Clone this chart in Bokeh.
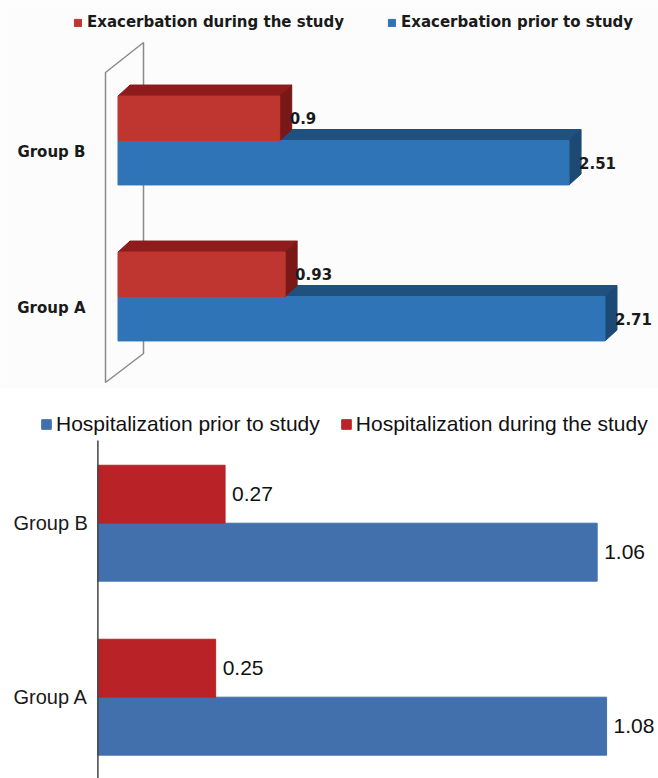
from bokeh.plotting import figure
from bokeh.layouts import column
from bokeh.models import Range1d, Legend, LegendItem
from bokeh.core.properties import value
from bokeh.embed import file_html
from bokeh.resources import INLINE

# ---------------- data ----------------
groups = ["Group A", "Group B"]
exac_during = [0.93, 0.9]
exac_prior = [2.71, 2.51]
hosp_prior = [1.08, 1.06]
hosp_during = [0.25, 0.27]
legend_top = ["Exacerbation during the study", "Exacerbation prior to study"]
legend_bottom = ["Hospitalization prior to study", "Hospitalization during the study"]

# ---------------- styles ----------------
W = 658
H1 = 388
H2 = 390
RED_FRONT, RED_TOP, RED_SIDE = "#BF3631", "#8E1C1C", "#7A1717"
BLUE_FRONT, BLUE_TOP, BLUE_SIDE = "#2E74B6", "#1F507E", "#1C4A75"
RED2, BLUE2 = "#B92328", "#4170AD"

# ================= top chart (3D look) =================
X0, SX = 117.5, 179.7      # pixel of zero, pixels per unit
Y0, SY = 296.0, 156.0      # pixel of Group A baseline, pixels per group
pos = [0, 1]
h = 0.285
dx, dy = 12 / SX, 11 / SY

p1 = figure(width=W, height=H1,
            x_range=Range1d(-X0 / SX, (W - X0) / SX),
            y_range=Range1d(-(H1 - Y0) / SY, Y0 / SY),
            x_axis_location=None, y_axis_location=None,
            toolbar_location=None, output_backend="svg", min_border=0,
            outline_line_color=None, background_fill_color="#fcfcfc",
            border_fill_color="#fcfcfc")
p1.grid.visible = False

def px_x(px):
    return (px - X0) / SX

def px_y(py):
    return (Y0 - py) / SY

# back wall (decoration)
p1.patch(x=[px_x(105), px_x(105), px_x(143), px_x(143)],
         y=[px_y(382), px_y(72), px_y(42), px_y(353)],
         fill_alpha=0, line_color="#8a8a8a", line_width=1.5)

def bar3d(p, vals, base, front, top, side):
    p.patches(xs=[[0, dx, v + dx, v] for v in vals],
              ys=[[b + h, b + h + dy, b + h + dy, b + h] for b in base],
              color=top)
    p.patches(xs=[[v, v + dx, v + dx, v] for v in vals],
              ys=[[b + h, b + h + dy, b + dy, b] for b in base],
              color=side)
    return p.quad(left=0, right=vals, bottom=base, top=[b + h for b in base],
                  fill_color=front, line_color=front)

blue_r = bar3d(p1, exac_prior, [y - h for y in pos], BLUE_FRONT, BLUE_TOP, BLUE_SIDE)
red_r = bar3d(p1, exac_during, pos, RED_FRONT, RED_TOP, RED_SIDE)

FONT1 = value("DejaVu Sans")
p1.text(x=[v + 10 / SX for v in exac_during], y=[y + 0.147 for y in pos],
        text=[str(v) for v in exac_during], text_font=FONT1, text_font_style="bold",
        text_font_size="15px", text_baseline="middle", text_color="#1a1a1a")
p1.text(x=[v + 10 / SX for v in exac_prior], y=[y - 0.147 for y in pos],
        text=[str(v) for v in exac_prior], text_font=FONT1, text_font_style="bold",
        text_font_size="15px", text_baseline="middle", text_color="#1a1a1a")
p1.text(x=[px_x(85)] * 2, y=[y - 11 / SY for y in pos], text=groups,
        text_font=FONT1, text_font_style="bold", text_font_size="15px",
        text_baseline="middle", text_align="right", text_color="#1a1a1a")

leg1 = Legend(items=[LegendItem(label=legend_top[0], renderers=[red_r]),
                     LegendItem(label=legend_top[1], renderers=[blue_r])],
              orientation="horizontal", location=(73, 357),
              glyph_width=9, glyph_height=9, label_standoff=5, spacing=43,
              padding=0, margin=0, border_line_color=None,
              background_fill_alpha=0, label_text_font="DejaVu Sans",
              label_text_font_style="bold", label_text_font_size="15px",
              label_text_color="#1a1a1a")
p1.add_layout(leg1)

# ================= bottom chart =================
X0b, SXb = 97.4, 471.0
Y0b, SYb = 308.7, 174.0
hb = 0.333

p2 = figure(width=W, height=H2,
            x_range=Range1d(-X0b / SXb, (W - X0b) / SXb),
            y_range=Range1d(-(H2 - Y0b) / SYb, Y0b / SYb),
            x_axis_location=None, y_axis_location=None,
            toolbar_location=None, output_backend="svg", min_border=0,
            outline_line_color=None)
p2.grid.visible = False

blue2 = p2.hbar(y=[y - hb / 2 for y in pos], height=hb, left=0, right=hosp_prior,
                fill_color=BLUE2, line_color=BLUE2)
red2 = p2.hbar(y=[y + hb / 2 for y in pos], height=hb, left=0, right=hosp_during,
               fill_color=RED2, line_color=RED2)

# axis line
p2.segment(x0=[0], y0=[(Y0b - 52) / SYb], x1=[0], y1=[-(H2 - Y0b) / SYb],
           line_color="#444444", line_width=1.5)

FONT2 = value("Liberation Sans")
p2.text(x=[v + 7 / SXb for v in hosp_during], y=[y + hb / 2 for y in pos],
        text=[f"{v:.2f}" for v in hosp_during], text_font=FONT2,
        text_font_size="21px", text_baseline="middle", text_color="#111111")
p2.text(x=[v + 7 / SXb for v in hosp_prior], y=[y - hb / 2 for y in pos],
        text=[f"{v:.2f}" for v in hosp_prior], text_font=FONT2,
        text_font_size="21px", text_baseline="middle", text_color="#111111")
p2.text(x=[-10 / SXb] * 2, y=pos, text=groups, text_font=FONT2,
        text_font_size="20px", text_baseline="middle", text_align="right",
        text_color="#1a1a1a")

leg2 = Legend(items=[LegendItem(label=legend_bottom[0], renderers=[blue2]),
                     LegendItem(label=legend_bottom[1], renderers=[red2])],
              orientation="horizontal", location=(40, 342),
              glyph_width=12, glyph_height=12, label_standoff=4, spacing=20,
              padding=0, margin=0, border_line_color=None,
              background_fill_alpha=0, label_text_font="Liberation Sans",
              label_text_font_size="21px", label_text_color="#111111")
p2.add_layout(leg2)

layout = column(p1, p2, spacing=0)
open("out.html", "w").write(file_html(layout, INLINE))
